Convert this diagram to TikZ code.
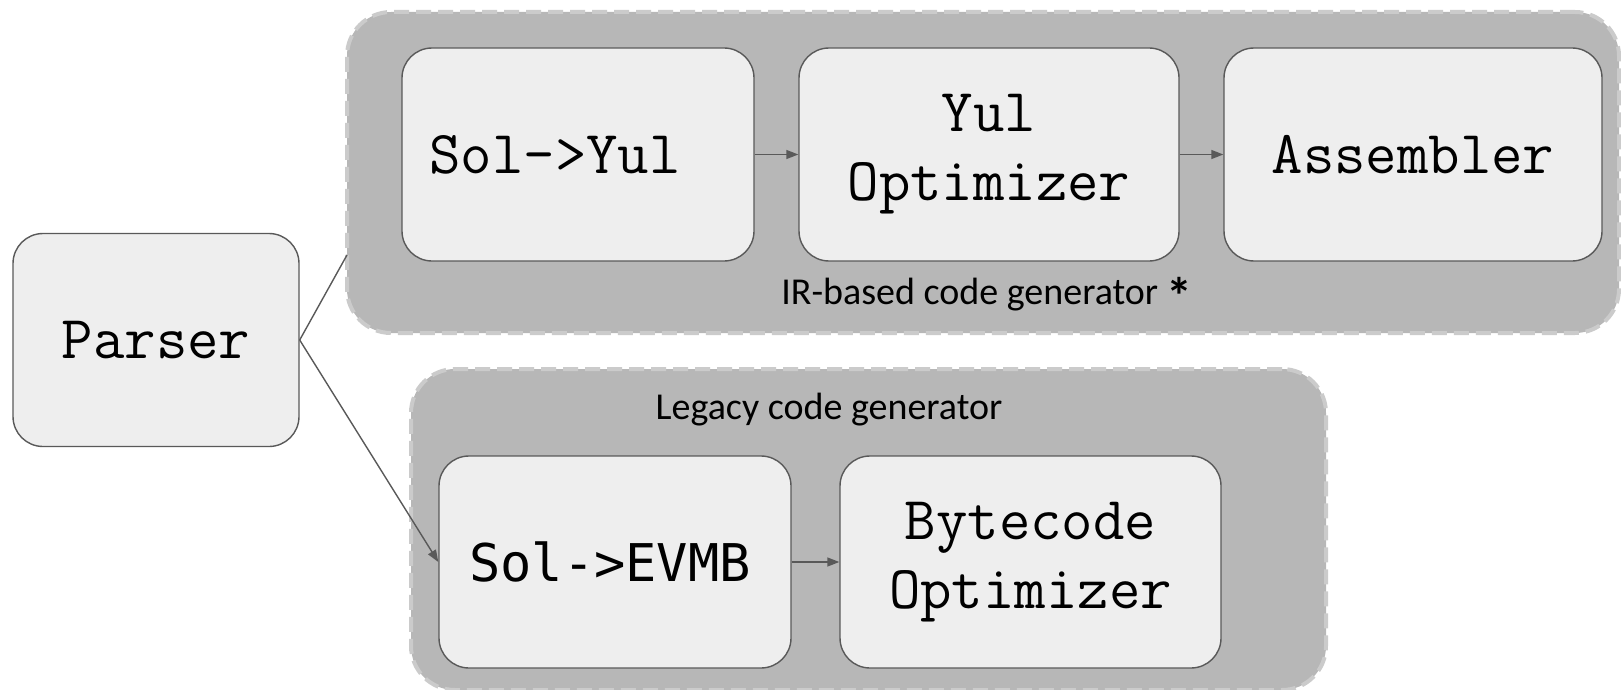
\documentclass[tikz,border=0pt]{standalone}
\usepackage{fontspec}
\newfontfamily\labfont{Carlito}
\newfontfamily\dvmono{DejaVu Sans Mono}
\usetikzlibrary{arrows.meta}
\definecolor{contfill}{HTML}{B7B7B7}
\definecolor{contline}{HTML}{CBCBCB}
\definecolor{boxfill}{HTML}{EEEEEE}
\definecolor{boxline}{HTML}{595959}
\begin{document}
\begin{tikzpicture}[x=0.5pt,y=-0.5pt,
  container/.style={draw=contline, fill=contfill, line width=2pt, dash pattern=on 7.5pt off 3.5pt, rounded corners=22pt, inner sep=0pt},
  stagebox/.style={draw=boxline, fill=boxfill, line width=0.7pt, rounded corners=15pt, font=\ttfamily\fontsize{30.5}{34.5}\selectfont, align=center, inner sep=0pt, minimum height=106.5pt},
  conn/.style={draw=boxline, line width=0.7pt},
  arr/.style={conn, -{Triangle[length=6pt,width=4.5pt]}},
  grouplabel/.style={font=\labfont\fontsize{19}{23}\selectfont, inner sep=0pt}]
\useasboundingbox (0,0) rectangle (1621,690);
\node[container, minimum width=636pt, minimum height=160.5pt] (ir) at (983,172.5) {};
\node[container, minimum width=457.5pt, minimum height=160.5pt] (legacy) at (868.5,529.5) {};
\node[stagebox, minimum width=176pt] (solyul) at (578,154.5) {Sol->Yul\hspace*{23pt}};
\node[stagebox, minimum width=190pt] (yulopt) at (989,154.5) {Yul\\Optimizer};
\node[stagebox, minimum width=189pt] (asm) at (1413,154.5) {Assembler};
\node[stagebox, minimum width=143pt] (parser) at (156,340) {Parser};
\node[stagebox, minimum width=176pt, minimum height=106pt, font=\dvmono\fontsize{26}{30}\selectfont] (solevmb) at (615,562) {Sol->EVMB\hspace*{5pt}};
\node[stagebox, minimum width=190.5pt, minimum height=106pt] (bcopt) at (1030.5,562) {Bytecode\\Optimizer};
\node[grouplabel] (irlabel) at (987,296) {IR-based code generator \raisebox{-5pt}{\fontsize{26}{26}\selectfont\bfseries *}};
\node[grouplabel] (leglabel) at (829,410) {Legacy code generator};
\coordinate (irin) at (347,255);
\draw[conn] (parser.east) -- (irin);
\draw[arr] (parser.east) -- (solevmb.west);
\draw[arr] (solyul.east) -- (yulopt.west);
\draw[arr] (yulopt.east) -- (asm.west);
\draw[arr] (solevmb.east) -- (bcopt.west);
\end{tikzpicture}
\end{document}
